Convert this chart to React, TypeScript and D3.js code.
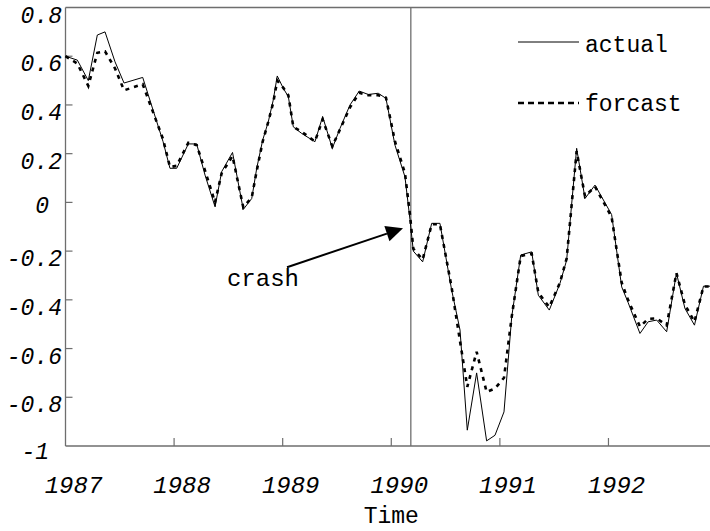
import * as d3 from 'd3';

const W = 710;
const H = 531;

// decimal years of the sampled points
const times = [
  1987.0, 1987.109, 1987.21, 1987.293, 1987.364, 1987.456, 1987.539, 1987.711, 1987.898, 1987.962,
  1988.024, 1988.131, 1988.208, 1988.285, 1988.377, 1988.438, 1988.538, 1988.637, 1988.715, 1988.761,
  1988.816, 1988.867, 1988.913, 1988.95, 1989.006, 1989.052, 1989.098, 1989.175, 1989.297, 1989.368,
  1989.457, 1989.528, 1989.62, 1989.705, 1989.788, 1989.88, 1989.951, 1990.034, 1990.126, 1990.172,
  1990.203, 1990.289, 1990.372, 1990.448, 1990.556, 1990.633, 1990.7, 1990.786, 1990.878, 1990.955,
  1991.038, 1991.109, 1991.192, 1991.293, 1991.354, 1991.455, 1991.553, 1991.615, 1991.707, 1991.784,
  1991.876, 1992.029, 1992.122, 1992.18, 1992.29, 1992.366, 1992.444, 1992.536, 1992.626, 1992.704,
  1992.792, 1992.875, 1992.935,
];

const actual = [
  0.6, 0.584, 0.5, 0.687, 0.7, 0.577, 0.49, 0.513, 0.25, 0.14,
  0.14, 0.24, 0.24, 0.112, -0.018, 0.126, 0.205, -0.029, 0.016, 0.14,
  0.256, 0.33, 0.42, 0.519, 0.468, 0.434, 0.31, 0.283, 0.249, 0.352,
  0.222, 0.304, 0.4, 0.457, 0.443, 0.448, 0.427, 0.235, 0.105, -0.07,
  -0.2, -0.244, -0.086, -0.086, -0.36, -0.524, -0.935, -0.7, -0.979, -0.956,
  -0.86, -0.47, -0.216, -0.203, -0.381, -0.442, -0.333, -0.237, 0.222, 0.016,
  0.071, -0.05, -0.347, -0.41, -0.538, -0.49, -0.483, -0.531, -0.29, -0.435,
  -0.504, -0.344, -0.344,
];

const forcast = [
  0.6, 0.57, 0.478, 0.614, 0.62, 0.55, 0.46, 0.485, 0.26, 0.145,
  0.15, 0.245, 0.235, 0.13, 0.0, 0.12, 0.19, -0.02, 0.02, 0.13,
  0.25, 0.33, 0.41, 0.5, 0.47, 0.44, 0.31, 0.29, 0.25, 0.34,
  0.23, 0.3, 0.39, 0.45, 0.44, 0.44, 0.43, 0.25, 0.12, -0.05,
  -0.19, -0.235, -0.09, -0.09, -0.35, -0.57, -0.757, -0.613, -0.778, -0.764,
  -0.72, -0.47, -0.22, -0.21, -0.37, -0.43, -0.33, -0.23, 0.21, 0.025,
  0.065, -0.06, -0.33, -0.4, -0.51, -0.478, -0.476, -0.505, -0.29, -0.42,
  -0.49, -0.345, -0.345,
];

const yearTicks = [1987, 1988, 1989, 1990, 1991, 1992];
const valueTicks = [0.8, 0.6, 0.4, 0.2, 0, -0.2, -0.4, -0.6, -0.8, -1];
const crashTime = 1990.18;

const font = '"Liberation Mono", "DejaVu Sans Mono", monospace';
const axisColor = '#6e6e6e';

export default function App() {
  const x = d3.scaleLinear().domain([1987, 1992.935]).range([65.5, 710]);
  const y = d3.scaleLinear().domain([-1, 0.8]).range([446, 7.5]);

  const line = (vals: number[]) =>
    d3.line<number>()
      .x((_, i) => x(times[i]))
      .y((v) => y(v))(vals) ?? '';

  const x0 = x(1987);
  const yb = y(-1);
  const yt = y(0.8);

  // arrow to the crash
  const ax1 = x(1989.04), ay1 = y(-0.266);
  const ax2 = x(1990.108), ay2 = y(-0.106);
  const ang = Math.atan2(ay2 - ay1, ax2 - ax1);
  const hl = 17, hw = 8;
  const bx = ax2 - hl * Math.cos(ang), by = ay2 - hl * Math.sin(ang);
  const head = [
    [ax2, ay2],
    [bx + hw * Math.sin(ang), by - hw * Math.cos(ang)],
    [bx - hw * Math.sin(ang), by + hw * Math.cos(ang)],
  ].map((p) => p.join(',')).join(' ');

  return (
    <svg width={W} height={H} style={{ position: 'absolute', left: 0, top: 0, background: '#fff' }}>
      {/* frame */}
      <line x1={x0} x2={W} y1={yt} y2={yt} stroke={axisColor} strokeWidth={1.3} />
      <line x1={x0} x2={x0} y1={yt} y2={yb} stroke={axisColor} strokeWidth={1.3} />
      <line x1={x0} x2={W} y1={yb} y2={yb} stroke={axisColor} strokeWidth={1.3} />

      {yearTicks.slice(1).map((t) => (
        <line key={t} x1={x(t)} x2={x(t)} y1={yb} y2={yb - 8} stroke={axisColor} strokeWidth={1.2} />
      ))}
      {valueTicks.slice(1, -1).map((v) => (
        <line key={v} x1={x0} x2={x0 + 7} y1={y(v)} y2={y(v)} stroke={axisColor} strokeWidth={1.2} />
      ))}

      {valueTicks.map((v) => {
        const label = v === 0 ? '0' : d3.format('.1f')(v).replace('−', '-');
        const lbl = Number.isInteger(v) ? String(v) : label;
        const isInt = !lbl.includes('.');
        return (
          <text key={v} x={isInt ? 49 : 62} y={y(v) + (v === 0 ? 11 : v === -1 ? 13 : 15)}
            textAnchor="end" fontFamily={font} fontStyle="italic" fontSize={23} fill="#000">
            {lbl}
          </text>
        );
      })}

      {yearTicks.map((t) => (
        <text key={t} x={x(t) + 8} y={493} textAnchor="middle" fontFamily={font}
          fontStyle="italic" fontSize={24} fill="#000">{t}</text>
      ))}
      <text x={x(1990)} y={523} textAnchor="middle" fontFamily={font} fontSize={23} fill="#000">Time</text>

      {/* crash marker */}
      <line x1={x(crashTime)} x2={x(crashTime)} y1={yt} y2={yb} stroke={axisColor} strokeWidth={1.3} />

      <path d={line(actual)} fill="none" stroke="#000" strokeWidth={1} />
      <path d={line(forcast)} fill="none" stroke="#000" strokeWidth={2.6} strokeDasharray="4,5" />

      <line x1={ax1} y1={ay1} x2={bx} y2={by} stroke="#000" strokeWidth={2} />
      <polygon points={head} fill="#000" />
      <text x={x(1988.487)} y={y(-0.344)} fontFamily={font} fontSize={24} fill="#000">crash</text>

      {/* legend */}
      <line x1={518} x2={579} y1={42} y2={42} stroke="#000" strokeWidth={1} />
      <text x={585} y={52} fontFamily={font} fontSize={23} fill="#000">actual</text>
      <line x1={518} x2={579} y1={103} y2={103} stroke="#000" strokeWidth={2.6} strokeDasharray="6,4" />
      <text x={585} y={111} fontFamily={font} fontSize={23} fill="#000">forcast</text>
    </svg>
  );
}
